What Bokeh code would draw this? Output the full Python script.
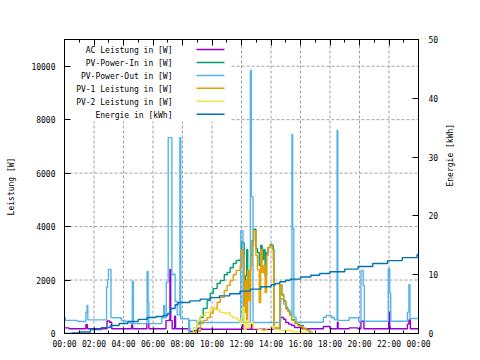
from bokeh.plotting import figure
from bokeh.models import Range1d, LinearAxis, FixedTicker, Label, Arrow
from bokeh.embed import file_html
from bokeh.resources import INLINE
import math

# ---------------- data ----------------
title_text = "Tagesdiagramm vom 2026-01-19"
hour_ticks = [0, 2, 4, 6, 8, 10, 12, 14, 16, 18, 20, 22, 24]
hour_labels = ["00:00", "02:00", "04:00", "06:00", "08:00", "10:00", "12:00",
               "14:00", "16:00", "18:00", "20:00", "22:00", "00:00"]
hour_minor = list(range(0, 25))
power_ticks = [0, 2000, 4000, 6000, 8000, 10000]
energy_ticks = [0, 10, 20, 30, 40, 50]

series_names = ["AC Leistung in [W]", "PV-Power-In in [W]", "PV-Power-Out in [W]",
                "PV-1 Leistung in [W]", "PV-2 Leistung in [W]", "Energie in [kWh]"]
series_colors = ["#9400d3", "#009e73", "#56b4e9", "#e69f00", "#f0e442", "#0072b2"]

t_ac = [0, 0.3, 1.45, 1.55, 2.88, 3.05, 3.2, 4.55, 4.62, 5.58, 5.72, 6.88, 7.1, 7.15, 7.2,
        7.3, 7.47, 7.53, 8.5, 9.05, 9.3, 12.05, 12.12, 12.65, 12.72, 14.6, 14.86, 15.0,
        15.2, 15.4, 15.6, 16.1, 17.55, 18.0, 18.5, 18.55, 19.3, 19.9, 20.1, 20.3, 21.98,
        22.05, 22.1, 23.25, 23.35, 23.45, 24]
ac = [210, 175, 340, 175, 470, 420, 175, 320, 175, 380, 175, 480, 520, 2400, 480,
      175, 650, 175, 80, 200, 160, 330, 160, 330, 160, 600, 530, 410,
      350, 300, 225, 175, 260, 175, 420, 175, 210, 175, 460, 175, 800,
      220, 175, 350, 510, 175, 175]

t_in = [8.5, 8.73, 9.0, 9.2, 9.4, 9.67, 9.88, 10.08, 10.35, 10.56, 10.83, 11.03, 11.23,
        11.44, 11.64, 11.91, 12.01, 12.1, 12.18, 12.28, 12.35, 12.42, 12.52, 12.62, 12.72,
        12.82, 12.98, 13.08, 13.2, 13.3, 13.4, 13.5, 13.6, 13.7, 13.8, 13.95, 14.08, 14.15,
        14.2, 14.6, 14.73, 14.86, 15.0, 15.13, 15.27, 15.4, 15.6, 15.8, 15.95, 16.2, 16.42,
        16.63]
pv_in = [0, 110, 360, 600, 935, 1230, 1500, 1680, 1870, 1980, 2200, 2280, 2460,
         2620, 2730, 2800, 3440, 3400, 1050, 2170, 3140, 1350, 2360, 2920, 3480,
         3900, 3180, 3030, 2540, 3290, 2770, 3140, 2170, 3030, 3220, 3330, 3290, 3150,
         220, 1830, 1460, 1230, 970, 860, 710, 520, 410, 340, 300, 190, 110,
         0]

t_out = [0, 0.05, 0.9, 1.45, 1.53, 1.58, 2.85, 2.92, 2.98, 3.15, 3.2, 3.85, 4.1, 4.45,
         4.6, 4.67, 5.6, 5.67, 5.72, 6.6, 6.72, 6.78, 6.9, 7.03, 7.28, 7.38, 7.5, 7.64,
         7.82, 7.88, 8.42, 8.48, 8.95, 11.95, 12.1, 12.6, 12.67, 12.78, 14.65, 14.85,
         15.05, 15.2, 15.35, 15.42, 15.47, 15.55, 15.7, 17.55, 17.75, 18.1, 18.3, 18.48,
         18.53, 19.3, 19.95, 20.1, 20.25, 20.33, 21.95, 22.05, 22.12, 23.25, 23.35, 23.42,
         24]
pv_out = [600, 490, 450, 800, 1050, 510, 1730, 2020, 2400, 610, 590, 490, 450, 385,
          1960, 370, 2320, 1170, 370, 590, 1050, 590, 1920, 7330, 2200, 2230, 1200, 700,
          7330, 550, 0, 490, 410, 3850, 410, 9840, 5120, 410, 1300, 1100,
          900, 800, 700, 7450, 3930, 600, 420, 610, 680, 600, 510, 7600,
          490, 590, 460, 2360, 1800, 460, 2420, 1500, 460, 800, 1830, 560,
          550]

t_pv1 = [8.52, 8.86, 9.2, 9.4, 9.67, 9.88, 10.08, 10.35, 10.56, 10.83, 11.03, 11.23,
         11.44, 11.64, 11.91, 12.01, 12.1, 12.18, 12.28, 12.35, 12.42, 12.52, 12.62, 12.72,
         12.82, 12.98, 13.08, 13.2, 13.3, 13.4, 13.5, 13.6, 13.7, 13.8, 13.95, 14.08, 14.15,
         14.2, 14.6, 14.73, 14.86, 15.0, 15.13, 15.27, 15.4, 15.6, 15.8, 15.95, 16.2, 16.42,
         16.63, 16.8]
pv1 = [0, 75, 370, 490, 600, 760, 935, 1170, 1350, 1610, 1800, 1970,
       2200, 2360, 2540, 3140, 2920, 790, 1980, 520, 2360, 1230, 2540, 3290,
       3850, 2920, 2390, 1160, 3140, 2280, 2540, 1530, 2920, 3220, 3290, 3140, 2730,
       220, 1830, 1420, 1200, 930, 820, 680, 490, 380, 300, 260, 170, 110,
       60, 0]

t_pv2 = [8.38, 8.73, 9.0, 9.2, 9.54, 9.88, 10.08, 10.22, 10.42, 10.56, 10.9, 11.1, 11.23,
         11.37, 11.57, 11.78, 11.91, 12.01, 12.1, 12.18, 12.32, 12.45, 12.59, 12.79, 13.13,
         13.4, 13.67, 14.08, 14.22, 14.6, 15.4, 16.07, 16.4]
pv2 = [0, 220, 490, 670, 790, 935, 970, 900, 860, 790, 750, 790, 670,
       600, 560, 490, 410, 600, 970, 150, 490, 220, 410, 190, 150,
       110, 190, 260, 150, 110, 75, 40, 0]

t_en = [0, 0.5, 1.0, 1.76, 2.5, 3.1, 3.7, 4.3, 5.0, 5.6, 6.2, 6.7, 7.0, 7.2, 7.5, 7.7,
        8.5, 9.2, 9.9, 10.5, 11.2, 11.9, 12.6, 13.3, 14.0, 14.3, 14.6, 15.0, 15.3, 16.0,
        16.7, 17.3, 18.0, 19.0, 19.9, 20.9, 21.9, 22.9, 23.9, 24]
energy = [0, 0.1, 0.25, 0.68, 1.0, 1.36, 1.7, 2.04, 2.4, 2.72, 2.9, 3.06, 3.4, 4.25, 4.9,
          5.27, 5.55, 5.85, 6.1, 6.4, 6.75, 7.2, 7.55, 7.95, 8.3, 8.5, 8.8, 9.05, 9.25, 9.6,
          9.9, 10.2, 10.5, 10.95, 11.4, 11.9, 12.4, 12.9, 13.4, 13.45]

# ---------------- figure ----------------
FONT = "DejaVu Sans Mono"
FS = "8px"
X0, X1, Y0, Y1 = 0, 24, 0, 11000
FRAME_W, FRAME_H = 354, 294

p = figure(width=480, height=360, x_range=Range1d(X0, X1), y_range=Range1d(Y0, Y1),
           output_backend="svg", toolbar_location=None,
           min_border_left=64, min_border_right=62, min_border_top=39, min_border_bottom=27)
p.extra_y_ranges = {"e": Range1d(0, 50)}
p.background_fill_color = "white"
p.border_fill_color = "white"
p.outline_line_color = "black"
p.outline_line_width = 1


def style_axis(ax):
    ax.axis_line_color = "black"
    ax.major_tick_line_color = "black"
    ax.minor_tick_line_color = "black"
    ax.major_tick_in = 6
    ax.major_tick_out = 0
    ax.minor_tick_in = 3
    ax.minor_tick_out = 0
    ax.major_label_text_font = FONT
    ax.major_label_text_font_size = FS
    ax.major_label_text_color = "black"
    ax.axis_label_text_font = FONT
    ax.axis_label_text_font_size = FS
    ax.axis_label_text_font_style = "normal"
    ax.axis_label_text_color = "black"


xax = p.xaxis[0]
xax.ticker = FixedTicker(ticks=hour_ticks, minor_ticks=hour_minor)
xax.major_label_overrides = {t: l for t, l in zip(hour_ticks, hour_labels)}
style_axis(xax)
xax.major_label_standoff = 6

yax = p.yaxis[0]
yax.ticker = FixedTicker(ticks=power_ticks, minor_ticks=[])
style_axis(yax)
yax.major_label_standoff = 9
yax.axis_label = "Leistung [W]"
yax.axis_label_standoff = 12

top_ax = LinearAxis(ticker=FixedTicker(ticks=hour_ticks, minor_ticks=hour_minor))
style_axis(top_ax)
top_ax.major_label_text_font_size = "0px"
top_ax.major_label_text_alpha = 0
top_ax.major_label_standoff = 0
p.add_layout(top_ax, "above")

rax = LinearAxis(y_range_name="e", ticker=FixedTicker(ticks=energy_ticks, minor_ticks=[]))
style_axis(rax)
rax.major_label_standoff = 10
rax.axis_label = "Energie [kWh]"
rax.axis_label_standoff = 9
rax.axis_label_orientation = math.pi / 2
p.add_layout(rax, "right")

p.xgrid.visible = False
p.ygrid.visible = False

# dashed grid, interrupted by the opaque key box (like gnuplot)
LEG_RIGHT_PX, LEG_BOTTOM_PX = 167, 212
leg_right = X0 + (X1 - X0) * LEG_RIGHT_PX / FRAME_W
leg_bottom = Y0 + (Y1 - Y0) * LEG_BOTTOM_PX / FRAME_H
gx = hour_ticks[1:-1]
gy = power_ticks[1:]
p.segment(x0=gx, y0=[Y0] * len(gx), x1=gx,
          y1=[leg_bottom if x < leg_right else Y1 for x in gx],
          line_color="#a0a0a0", line_dash="3 2", line_width=1)
p.segment(x0=[leg_right if y > leg_bottom else X0 for y in gy], y0=gy,
          x1=[X1] * len(gy), y1=gy,
          line_color="#a0a0a0", line_dash="3 2", line_width=1)

LW = 1.4
p.step(t_ac, ac, mode="after", line_color=series_colors[0], line_width=LW)
p.step(t_in, pv_in, mode="after", line_color=series_colors[1], line_width=LW)
p.step(t_out, pv_out, mode="after", line_color=series_colors[2], line_width=LW)
p.step(t_pv1, pv1, mode="after", line_color=series_colors[3], line_width=LW)
p.step(t_pv2, pv2, mode="after", line_color=series_colors[4], line_width=LW)
p.step(t_en, energy, mode="after", line_color=series_colors[5], line_width=LW, y_range_name="e")

# legend (gnuplot style: text right-aligned, sample to the right)
row0 = 283.0
step = 12.94
for i, (name, col) in enumerate(zip(series_names, series_colors)):
    yb = row0 - i * step
    p.add_layout(Label(x=108, y=yb, x_units="screen", y_units="screen", text=name,
                       text_align="right", text_baseline="alphabetic",
                       text_font=FONT, text_font_size=FS, text_color="black"))
    p.add_layout(Arrow(end=None, x_start=132, y_start=yb + 1, x_end=160, y_end=yb + 1,
                       start_units="screen", end_units="screen",
                       line_color=col, line_width=1.5))

p.add_layout(Label(x=162.5, y=312, x_units="screen", y_units="screen", text=title_text,
                   text_align="center", text_baseline="alphabetic",
                   text_font=FONT, text_font_size=FS, text_color="black"))

open("out.html", "w").write(file_html(p, INLINE))
